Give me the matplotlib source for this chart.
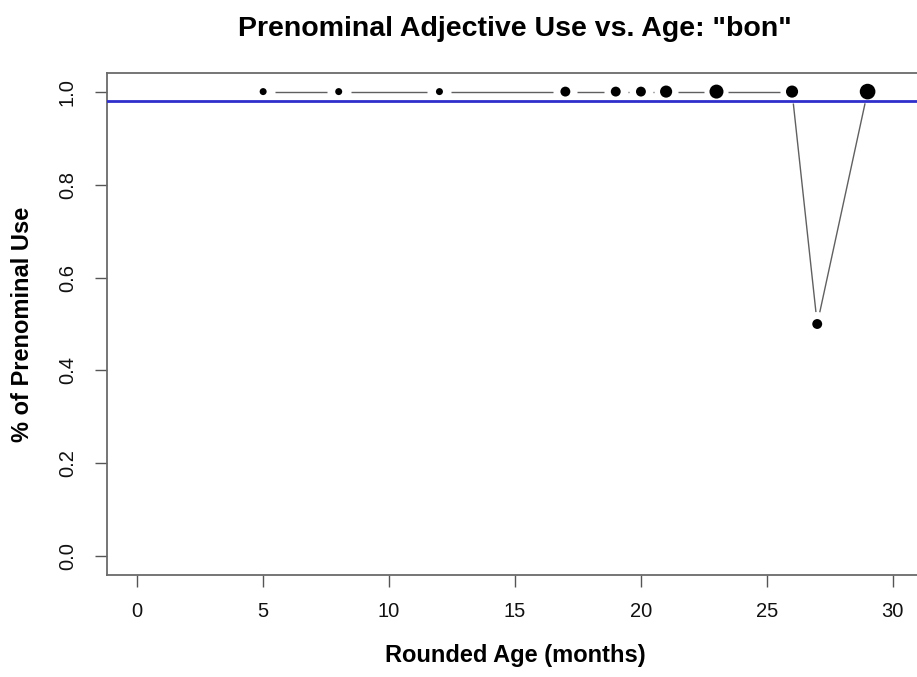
import numpy as np
import matplotlib
matplotlib.use("Agg")
import matplotlib.pyplot as plt

# age in months, share of prenominal "bon", and token count per age
ages = [5, 8, 12, 17, 19, 20, 21, 23, 26, 27, 29]
prenominal = [1.0, 1.0, 1.0, 1.0, 1.0, 1.0, 1.0, 1.0, 1.0, 0.5, 1.0]
tokens = [1, 1, 1, 2, 2, 2, 3, 4, 3, 2, 5]
overall_mean = 0.98

x_ticks = [0, 5, 10, 15, 20, 25, 30]
y_ticks = [0.0, 0.2, 0.4, 0.6, 0.8, 1.0]

DPI = 100
W, H = 917, 677
GAP_PX = 12  # space left between a point and its connecting line

plt.rcParams["font.family"] = ["Liberation Sans", "DejaVu Sans"]

fig = plt.figure(figsize=(W / DPI, H / DPI), dpi=DPI)
# box spans from x=107 to past the right edge, y=73 to 575 (pixels)
ax = fig.add_axes([107 / W, (H - 575) / H, (923 - 107) / W, (575 - 73) / H])
ax.set_xlim(-1.2, 31.2)
ax.set_ylim(-0.04, 1.04)

# type="b" style lines: segments stopping short of each point
pts = ax.transData.transform(np.column_stack([ages, prenominal]))
inv = ax.transData.inverted()
for p0, p1 in zip(pts[:-1], pts[1:]):
    d = p1 - p0
    dist = np.hypot(*d)
    if dist <= 2 * GAP_PX:
        continue
    u = d / dist
    a = inv.transform(p0 + u * GAP_PX)
    b = inv.transform(p1 - u * GAP_PX)
    ax.plot([a[0], b[0]], [a[1], b[1]], color="#606060", linewidth=1.0,
            solid_capstyle="butt", zorder=2)

ax.axhline(overall_mean, color="#2f2fcc", linewidth=2.0, zorder=3)

sizes = (7 * np.sqrt(tokens) * 72 / DPI) ** 2
ax.scatter(ages, prenominal, s=sizes, color="black", linewidths=0, zorder=4)

ax.set_xticks(x_ticks)
ax.set_xticklabels([str(t) for t in x_ticks])
ax.set_yticks(y_ticks)
ax.set_yticklabels([f"{t:.1f}" for t in y_ticks], rotation=90, va="center")
ax.tick_params(axis="both", length=8.6, width=1.0, color="#555555",
               labelsize=14.5, labelcolor="#111111")
ax.tick_params(axis="x", pad=11)
ax.tick_params(axis="y", pad=13)

for s in ax.spines.values():
    s.set_color("#6a6a6a")
    s.set_linewidth(1.3)

cx = (107 + 923) / 2 / W
fig.text(cx, 1 - 36 / H, 'Prenominal Adjective Use vs. Age: "bon"',
         ha="center", va="baseline", fontsize=20.5, fontweight="bold")
fig.text(cx, 1 - 662 / H, "Rounded Age (months)",
         ha="center", va="baseline", fontsize=17, fontweight="bold")
fig.text(23 / W, 1 - 324 / H, "% of Prenominal Use", rotation=90,
         ha="center", va="center", fontsize=17, fontweight="bold")

fig.savefig("out.png", dpi=DPI)
